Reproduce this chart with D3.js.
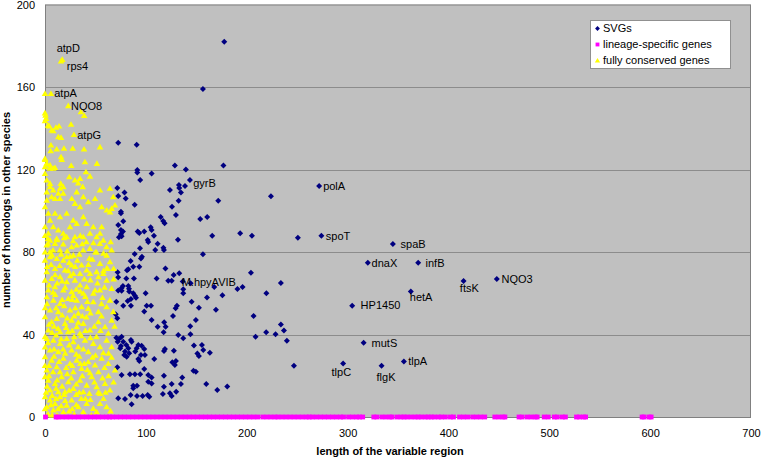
<!DOCTYPE html>
<html><head><meta charset="utf-8">
<script src="https://cdn.jsdelivr.net/npm/d3@7"></script>
<style>body{margin:0;background:#fff}svg{display:block}text{font-family:Arial,"Liberation Sans",sans-serif}</style>
</head><body><svg id="c" width="761" height="458"></svg>
<script>
const xTicks=[0,100,200,300,400,500,600,700];
const yTicks=[0,40,80,120,160,200];
const seriesNames=["SVGs","lineage-specific genes","fully conserved genes"];
const xTitle="length of the variable region";
const yTitle="number of homologs in other species";

const svgPoints=[
[177.7,182.0],[156.6,159.0],[72.6,133.0],[90.9,132.0],[128.8,122.0],[139.7,120.0],[176.9,122.0],[91.5,119.8],[91.5,118.6],[105.7,118.1],[94.4,114.9],[143.7,114.9],[71.7,111.0],[78.8,108.9],[80.0,106.0],[72.6,107.2],[123.9,110.1],[132.8,112.5],[133.1,111.0],[138.8,112.0],[134.8,108.9],[171.8,104.9],[224.0,107.0],[271.8,112.0],[132.5,104.9],[88.9,102.9],[125.9,102.0],[129.8,98.0],[114.7,97.0],[117.2,95.0],[118.6,93.9],[153.9,96.0],[160.8,97.0],[75.3,99.5],[75.3,98.8],[77.6,94.9],[72.6,93.1],[75.3,90.7],[77.3,90.0],[75.3,88.7],[76.0,87.6],[73.3,87.1],[91.9,90.0],[93.5,89.2],[98.4,90.0],[104.8,92.0],[105.7,90.7],[108.0,87.9],[101.8,85.8],[102.4,84.8],[111.7,84.0],[131.8,85.9],[165.8,87.9],[193.5,89.1],[205.2,87.9],[250.7,86.9],[274.0,87.9],[344.9,83.9],
[109.3,81.0],[117.4,82.1],[117.9,81.0],[94.2,81.8],[88.9,79.0],[96.1,77.7],[95.1,76.8],[84.9,75.6],[156.6,78.9],[320.1,74.8],[370.0,74.8],[81.3,71.1],[82.6,71.6],[87.5,72.9],[93.5,72.9],[72.0,70.2],[119.4,72.0],[80.6,67.1],[88.2,67.1],[72.6,67.7],[110.7,67.1],[127.6,68.8],[133.1,69.7],[122.2,66.1],[125.6,66.1],[136.5,65.7],[144.4,64.8],[204.2,70.0],[167.8,63.0],[190.8,62.1],[195.9,63.0],[233.9,65.0],[219.5,60.0],[137.1,60.0],[137.1,61.9],[160.6,58.0],[175.9,59.0],[362.7,60.9],[415.0,65.9],[448.0,66.9],
[77.3,63.5],[82.6,63.5],[83.3,62.2],[76.0,62.5],[83.5,60.8],[76.0,61.2],[87.5,60.0],[89.2,58.8],[85.2,57.2],[90.2,57.8],[99.8,60.0],[70.7,55.9],[77.6,54.0],[82.0,56.2],[85.2,54.0],[100.8,54.0],[105.1,54.0],[98.4,51.1],[70.1,49.8],[71.7,47.9],[105.7,47.0],[111.7,43.8],[118.2,45.9],[119.6,43.8],[117.6,41.1],[126.9,49.0],[129.5,52.7],[130.8,54.0],[145.4,55.9],[152.6,53.0],[169.5,52.0],[304.6,54.0],[149.6,47.0],[206.8,49.0],[144.0,44.0],[132.1,39.8],[137.1,38.2],[144.2,40.1],[147.7,34.7],[155.6,34.9],[151.1,30.8],[152.6,29.6],[156.9,32.5],[163.5,31.2],[118.0,32.0],[118.9,33.0],[127.8,32.1],
[70.7,38.4],[73.3,37.8],[76.0,38.9],[72.1,36.5],[77.6,36.5],[75.3,34.4],[74.6,33.3],[80.6,34.9],[85.2,37.3],[85.9,36.5],[82.6,33.3],[79.3,31.7],[78.6,30.1],[81.0,29.2],[83.5,30.9],[89.5,31.7],[90.9,33.3],[92.5,34.9],[95.8,34.6],[98.4,33.0],[95.1,30.1],[92.5,28.1],[93.5,27.2],[99.1,30.1],[108.3,28.1],[126.2,26.5],[128.8,25.2],[129.8,27.2],[71.7,24.1],[84.2,20.7],[89.2,20.7],[94.4,20.7],[98.4,23.3],[102.4,20.4],[102.4,17.1],[76.0,20.4],[117.9,20.0],[136.1,19.2],[134.8,16.0],[125.6,16.0],[117.9,14.7],[87.5,15.2],[91.2,15.2],[87.5,13.9],[101.8,10.7],[103.4,9.8],[84.9,10.7],[91.2,10.2],[96.8,10.2],[116.9,11.2],[123.9,11.5],[125.6,10.2],[130.1,12.3],[72.6,9.1],[79.3,8.7],[85.9,6.2],[147.2,22.4],[149.6,22.0],[105.7,19.1],[105.7,16.3],[159.9,16.0],[170.8,13.1],[180.7,14.8],[246.8,24.9],[295.6,26.0],[315.9,36.0],[333.7,24.9],[355.8,26.9],[208.8,38.9],[219.3,41.1],[228.6,40.1],[233.9,44.9],[236.9,42.0],[239.8,37.0],[72.6,61.3]
];

const lineagePoints=[
[0.5,0],[11,0],[13,0],[17,0],[21,0],[25,0],[29,0],[33,0],[37,0],[41,0],[45,0],[49,0],[53,0],[57,0],[61,0],[64,0],[67,0],[71,0],[75,0],[79,0],[83,0],[87,0],[91,0],[95,0],[99,0],[103,0],[107,0],[111,0],[115,0],[119,0],[123,0],[127,0],[131,0],[135,0],[139,0],[143,0],[147,0],[151,0],[155,0],[159,0],[163,0],[167,0],[171,0],[175,0],[179,0],[183,0],[187,0],[191,0],[195,0],[199,0],[203,0],[207,0],[211,0],[216,0],[220,0],[224,0],[228,0],[231,0],[235,0],[239,0],[243,0],[247,0],[251,0],[255,0],[259,0],[262,0],[265,0],[269,0],[273,0],[277,0],[281,0],[285,0],[289,0],[293,0],[296,0],[301,0],[305,0],[309,0],[312,0],[315,0],[326,0],[329,0],[334,0],[338,0],[342,0],[344,0],[349,0],[353,0],[356,0],[359,0],[363,0],[367,0],[370,0],[373,0],[377,0],[380,0],[383,0],[386,0],[390,0],[393,0],[397,0],[402,0],[405,0],[411,0],[415,0],[419,0],[424,0],[428,0],[432,0],[436,0],[446,0],[450,0],[454,0],[456,0],[470,0],[473,0],[478,0],[482,0],[486,0],[488,0],[495,0],[499,0],[505,0],[508,0],[513,0],[516,0],[527,0],[530,0],[534,0],[536,0],[592,0],[594,0],[599,0],[601,0]
];

const conservedPoints=[
[17.1,173.4],[15.9,172.6],[0,156.9],[5.9,156.9],[23.1,151],[35.6,148],[38.9,146.2],[0,147.5],[0.5,146.4],[1,144.8],[0,143.7],[3,141.5],[4.3,141.1],[6.6,139.2],[8.2,138.8],[10.9,140.5],[13.9,141.1],[25.8,142],[28.7,137],[15.9,135.6],[13.2,135.9],[5.9,131.9],[5.6,129.1],[11.6,130],[18.8,130.3],[27.5,130.3],[38.7,130],[54.5,131],
[0,125.4],[0,124.9],[1.7,123],[0,121.4],[5,122.2],[5,120.6],[8.2,120.6],[9.9,121],[15.9,126.2],[16.6,124.9],[26,122],[39.6,123.8],[51.5,123],[40.6,118.9],[44.6,116.8],[0,118.1],[1.7,114.9],[5,113.3],[24.1,116.5],[29.7,114.9],[34.7,115.7],[33,113.5],
[5,111.7],[1.7,109.2],[8.2,110.1],[13.2,108.5],[6.6,106.8],[9.9,106],[14.9,106],[14.9,110.9],[15.6,113.3],[18.1,111.7],[18.1,108.5],[37.4,111.7],[31.4,109.2],[54.5,110.1],[64.4,110.9],[67.7,106.8],[26.5,106],[29.7,103.6],[34.7,102],[42.9,104.4],[49.6,106],[38,106.8],[56.2,102],[61.2,100.4],[66.1,101.2],[64.4,99.5],[69.4,102.8],
[1.7,105.2],[0,102],[3.3,98.8],[5,95.5],[0,92.3],[3.3,89.1],[5,85.8],[9.9,98.8],[14.9,97.1],[8.2,92.3],[13.2,90.7],[18.1,89.1],[11.6,86.6],[21.5,98.8],[28,95.5],[24.8,92.3],[31.4,93.9],[21.5,87.4],[29.7,87.4],[38,97.1],[41.3,93.9],[47.9,92.3],[44.6,89.1],[38,87.4],[51.2,87.4],[56.2,92.3],[54.5,89.1],[57.8,85.8],
[1.6,83.4],[9.9,84.2],[18.1,83.9],[26.4,82.6],[31.4,83.4],[37.9,81],[14.8,81],[4.9,80.1],[54.4,84.2],[61,82.6],[66,81],[44.5,81.8],[22,80.5],[48,84.5],[7,78.5],[34,79],[58,79.5],[41,85],[12,86],[28,85.5],[3,86.5],[51,80],
[0,76.1],[5,77.7],[11.6,76.9],[18.2,76.1],[21.5,77.7],[28.1,78.5],[26.4,73.7],[36.3,73.7],[41.3,71.3],[19.8,71.3],[9.9,72.1],[1.7,70.5],[61.1,78.5],[64.4,75.3],[54.5,74.5],[34.7,69.6],[28.1,69.6],[44.6,69.6],[51.2,70.5],[14.5,73.5],[47,76.5],[68,72],[58,71],[6,74],[32,76],[24,75],[61.2,72.2],
[0,66.4],[6.6,67.2],[14.9,68],[21.5,65.6],[29.7,66.4],[34.7,64],[41.3,63.2],[49.6,61.6],[54.5,61.6],[61.1,66.4],[57.8,69.6],[9.9,63.2],[3.3,61.6],[18.2,61.6],[26.4,60.8],[38,60],[66.1,62.4],[12,65],[45,66.5],[25,68.5],[68,67],[52,65],[31,62],[8,60.5],
[1.7,58.3],[8.3,56.7],[14.9,55.1],[23.1,57.5],[31.4,56.7],[36.3,53.5],[42.9,52.7],[47.9,55.9],[52.9,51.1],[61.1,53.5],[64.4,56.7],[5,51.9],[13.2,51.1],[24.8,51.9],[33,50.3],[67.7,51.1],[19,54],[28,59],[40,58.5],[57,58],[0,53],[10,59.5],[45,50.5],[56,55],
[0,48.6],[6.6,46.2],[11.6,47.8],[19.8,45.4],[26.4,47],[31.4,43.8],[38,45.4],[44.6,42.2],[52.9,46.2],[59.5,43.8],[66.1,47],[3.3,42.2],[14.9,41.4],[23.1,41.4],[34.7,40.6],[62.8,40.6],[9,44],[17,49.5],[29,49],[41,48.5],[49,44],[56,49],[69,44],[21,43.5],
[1.7,38.1],[8.3,37.3],[14.9,35.7],[21.5,38.1],[28.1,36.5],[33,34.1],[39.6,37.3],[47.9,35.7],[54.5,34.1],[61.1,37.3],[66.1,34.1],[5,32.5],[13.2,31.7],[26.4,32.5],[42.9,31.7],[57.8,31.2],[18,33],[36,39.5],[51,39],[11,39.8],[0,34],[31,30.5],[63,31],[45,38.5],
[0,29.3],[6.6,27.6],[11.6,24.4],[18.2,28.5],[24.8,26],[31.4,27.6],[36.3,23.6],[42.9,26.8],[49.6,25.2],[56.2,28.5],[62.8,26],[69.4,22.8],[1.7,22.8],[14.9,22],[28.1,22],[44.6,21.5],[4,25],[9,29.5],[21,24],[34,29.5],[39,26],[53,22],[59,24],[66,29],
[0,19.6],[3.3,17.9],[9.9,16.3],[16.5,19.6],[23.1,17.1],[28.1,13.9],[34.7,17.9],[41.3,15.5],[46.3,19.6],[51.2,14.7],[59.5,16.3],[64.4,13.1],[5,13.1],[13.2,12.3],[19.8,12.3],[38,12.3],[54.5,11.5],[7,10.5],[26,19],[31,11],[44,11.5],[57,19],[68,17],[12,18],[1,12],
[0,9.9],[5,8.3],[9.9,6.6],[14.9,9.9],[21.5,5.8],[26.4,8.3],[33,5],[41.3,6.6],[47.9,4.2],[54.5,6.6],[61.1,5],[1.7,5],[8.3,3.4],[18.2,2.6],[38,2.6],[51.2,2.6],[3,1.5],[12,1],[16,5.5],[24,3],[29,1.5],[36,9],[45,8.5],[58,9],[65,3],[6,6],[11,9],
[3,84],[16,79],[25,78],[37,84],[44,77],[2,73],[10,69],[17,66],[23,71],[30,73],[39,67],[4,64],[20,63],[27,57],[35,61],[42,56],[2,55],[11,53],[17,57],[22,48],[30,53],[37,49],[4,45],[13,43],[27,42],[33,46],[40,42],[7,41],[16,38],[24,35],[29,39],[38,33],[3,36],[9,33],[20,31],[35,26],[47,29],[14,27],[22,21],[27,25],[4,20],[8,22],[17,15],[24,13],[31,16],[37,20],[42,23],[49,17],[2,15],[11,14],[20,8],[27,4],[34,12],[40,9],[13,4],[7,1],[19,11],[31,6],[46,1],[53,12],[60,12],[63,20],[50,30],[55,42],[48,60],[53,68],[59,63],[62,72],[43,74],[50,80],[65,85],[8,81],[19,87],[35,88],[0,80],[0,88],[0,39],[0,25],[0,4]
];

const labelNames=["atpD","rps4","atpA","NQO8","atpG","gyrB","polA","spoT","spaB","dnaX","infB","M.hpyAVIB","hetA","HP1450","mutS","tlpC","flgK","tlpA","ftsK","NQO3"];
const labelPoints=[[17.1,173.4],[15.9,172.6],[5.9,156.9],[23.1,151],[28.7,137],[143.7,114.9],[271.8,112],[274,87.9],[344.9,83.9],[320.1,74.8],[370,74.8],[136.5,65.7],[362.7,60.9],[304.6,54],[315.9,36],[295.6,26],[333.7,24.9],[355.8,26.9],[415,65.9],[448,66.9]];

// label offsets (layout, px)
const labelOffsets={atpD:[-5.6,-11.6],rps4:[5.7,4.8],atpA:[3.3,0],NQO8:[2.7,0.4],atpG:[3.3,0.3],gyrB:[3.3,3],polA:[4,0],spoT:[4.5,0],spaB:[7.7,0],dnaX:[3.7,0],infB:[7.4,0],"M.hpyAVIB":[-1,0.2],hetA:[-1,5.3],HP1450:[8.4,0],mutS:[8,0],tlpC:[-11.6,8.3],flgK:[-5,12],tlpA:[4.3,0],ftsK:[-3.7,7.2],NQO3:[4.7,0]};

const svg=d3.select("#c");
const L=45,R=751,T=4.5,B=417;
const x=d3.scaleLinear().domain([0,700]).range([L,R]);
const y=d3.scaleLinear().domain([0,200]).range([B,T]);

svg.append("rect").attr("x",L).attr("y",T).attr("width",R-L).attr("height",B-T).attr("fill","#c0c0c0");
svg.append("g").selectAll("line").data(yTicks.filter(d=>d>0&&d<200)).join("line")
  .attr("x1",L).attr("x2",R).attr("y1",d=>Math.round(y(d))+0.5).attr("y2",d=>Math.round(y(d))+0.5)
  .attr("stroke","#8c8c8c").attr("stroke-width",1);
svg.append("rect").attr("x",L+0.5).attr("y",T+0.5).attr("width",R-L-1).attr("height",B-T).attr("fill","none").attr("stroke","#808080");

const gx=svg.append("g").attr("transform",`translate(0,${B})`).call(d3.axisBottom(x).tickValues(xTicks).tickSize(0).tickPadding(12).tickFormat(d3.format("d")));
gx.select(".domain").remove();
gx.selectAll("text").attr("font-size",11).attr("font-family","Arial, Liberation Sans").attr("fill","#000");
const gy=svg.append("g").attr("transform",`translate(${L},0)`).call(d3.axisLeft(y).tickValues(yTicks).tickSize(0).tickPadding(10).tickFormat(d3.format("d")));
gy.select(".domain").remove();
gy.selectAll("text").attr("font-size",11).attr("font-family","Arial, Liberation Sans").attr("fill","#000");

svg.append("text").attr("x",390).attr("y",455).attr("text-anchor","middle").attr("font-size",11).attr("font-weight","bold").text(xTitle);
svg.append("text").attr("transform","translate(10,210) rotate(-90)").attr("text-anchor","middle").attr("font-size",11).attr("font-weight","bold").text(yTitle);

const diamond="M0,-3L3,0L0,3L-3,0Z";
const tri="M0,-3L3.3,2.6L-3.3,2.6Z";
const sq="M-2.4,-2.4H2.4V2.4H-2.4Z";

svg.append("g").selectAll("path").data(svgPoints).join("path")
  .attr("d",diamond).attr("transform",d=>`translate(${x(d[0])},${y(d[1])})`).attr("fill","#000080");
svg.append("g").selectAll("path").data(conservedPoints).join("path")
  .attr("d",tri).attr("transform",d=>`translate(${x(d[0])},${y(d[1])})`).attr("fill","#ffff00");
svg.append("g").selectAll("path").data(lineagePoints).join("path")
  .attr("d",sq).attr("transform",d=>`translate(${x(d[0])},${y(d[1])})`).attr("fill","#ff00ff");

svg.append("g").selectAll("text").data(labelNames).join("text")
  .attr("x",(d,i)=>x(labelPoints[i][0])+labelOffsets[d][0])
  .attr("y",(d,i)=>y(labelPoints[i][1])+labelOffsets[d][1])
  .attr("dy","0.35em").attr("font-size",11).attr("fill","#000").text(d=>d);

// legend
const lg=svg.append("g");
lg.append("rect").attr("x",590.5).attr("y",20.5).attr("width",140).attr("height",48).attr("fill","#fff").attr("stroke","#909090");
const shapes=[diamond,sq,tri], cols=["#000080","#ff00ff","#ffff00"];
seriesNames.forEach((n,i)=>{
  const yy=28.5+i*16;
  lg.append("path").attr("d",shapes[i]).attr("transform",`translate(597.5,${yy}) scale(0.8)`).attr("fill",cols[i]);
  lg.append("text").attr("x",603).attr("y",yy).attr("dy","0.35em").attr("font-size",11).text(n);
});
</script></body></html>
